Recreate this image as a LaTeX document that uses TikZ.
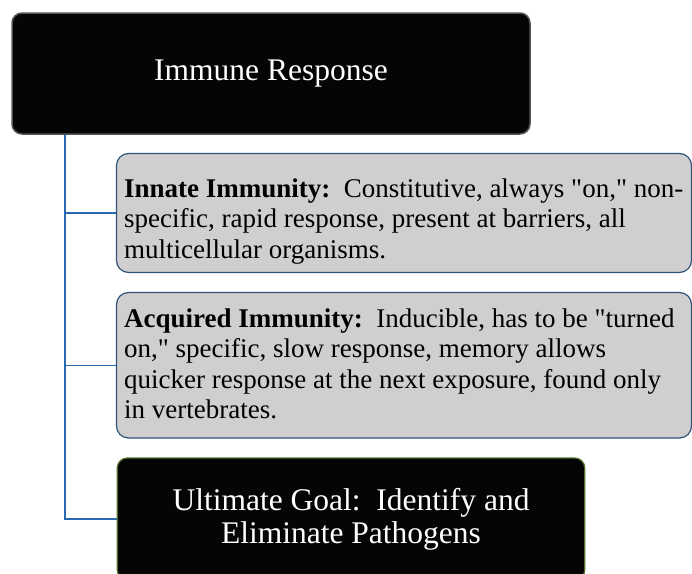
\documentclass[tikz,border=0pt]{standalone}
\usepackage{fontspec}
\setmainfont{Liberation Serif}
\newfontfamily\bodyfont{Liberation Serif}
\definecolor{connblue}{RGB}{41,105,176}
\definecolor{boxblack}{RGB}{5,5,5}
\definecolor{topborder}{RGB}{85,85,85}
\definecolor{goalborder}{RGB}{84,110,40}
\definecolor{boxgray}{RGB}{208,206,206}
\definecolor{grayborder}{RGB}{47,84,120}
\begin{document}
\begin{tikzpicture}[x=1pt,y=-1pt,
  darkbox/.style={fill=boxblack, rounded corners=10pt, text=white, align=center,
    font=\bodyfont\fontsize{31.5}{33}\selectfont, inner sep=0pt},
  graybox/.style={draw=grayborder, line width=1.2pt, fill=boxgray, rounded corners=12pt,
    inner sep=0pt, minimum width=575pt},
  bodytext/.style={anchor=north west, inner sep=0pt, align=left,
    font=\bodyfont\fontsize{27}{30.5}\selectfont},
  conn/.style={draw=connblue, line width=1.1pt}]
\useasboundingbox (0,0) rectangle (692,573);
\node[darkbox, draw=topborder, line width=1.5pt, minimum width=518pt, minimum height=121pt]
  (top) at (271,73.5) {Immune Response};
\node[graybox, minimum height=119pt] (innate) at (404,213) {};
\node[bodytext] (innatetext) at (124,176.75)
  {\rule{0pt}{20.25pt}\textbf{Innate Immunity:}\ \ Constitutive, always "on," non-\\
   specific, rapid response, present at barriers, all\\
   multicellular organisms.};
\node[graybox, minimum height=145.5pt] (acquired) at (404,365.25) {};
\node[bodytext] (acquiredtext) at (124,306.75)
  {\rule{0pt}{20.25pt}\textbf{Acquired Immunity:}\ \ Inducible, has to be "turned\\
   on," specific, slow response, memory allows\\
   quicker response at the next exposure, found only\\
   in vertebrates.};
\node[darkbox, draw=goalborder, line width=1.2pt, minimum width=467.5pt, minimum height=122pt]
  (goal) at (351,519) {Ultimate Goal:\ \ Identify and\\Eliminate Pathogens};
\coordinate (trunk) at (65,0);
\draw[conn] (top.south -| trunk) |- (innate.west);
\draw[conn] (top.south -| trunk) |- (acquired.west);
\draw[conn] (top.south -| trunk) |- (goal.west);
\end{tikzpicture}
\end{document}
